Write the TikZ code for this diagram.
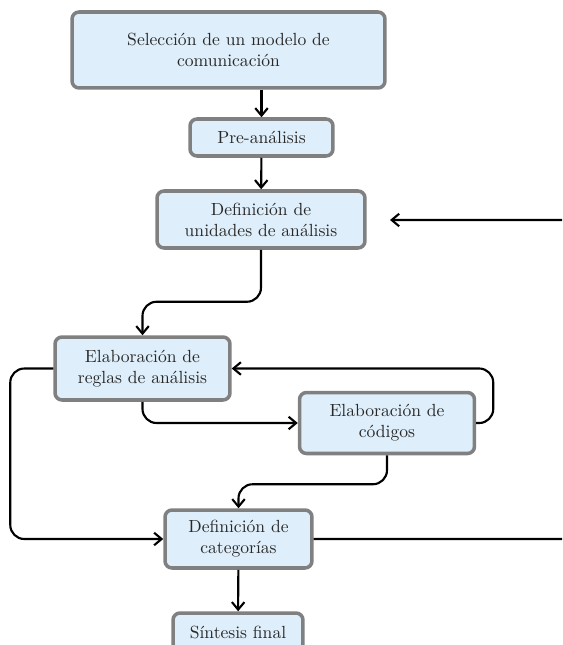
\documentclass[tikz,border=0pt]{standalone}
\usepackage{tikz}
\usepackage{xcolor}
\usetikzlibrary{calc,arrows.meta}
\definecolor{boxfill}{RGB}{222,238,250}
\definecolor{boxdraw}{RGB}{128,128,128}
\definecolor{boxtext}{RGB}{40,40,40}

\begin{document}
\begin{tikzpicture}[x=0.02cm,y=-0.02cm,
    boxnode/.style={rectangle, rounded corners=4pt, draw=boxdraw, fill=boxfill, line width=2pt, align=center, inner sep=2pt, text=boxtext},
    flow/.style={-{Straight Barb[length=1.5mm,width=2.5mm]}, line width=1.2pt, rounded corners=8pt}]
            \useasboundingbox (0,0) rectangle (562,645);
            \clip (0,0) rectangle (562,645);
            \node[boxnode, minimum width=6.26cm, minimum height=1.52cm] (A) at (228.5,50) {Selección de un modelo de\\comunicación};
            \node[boxnode, minimum width=2.86cm, minimum height=0.74cm] (B) at (261.5,137.5) {Pre-análisis};
            \node[boxnode, minimum width=4.16cm, minimum height=1.14cm] (C) at (261,219.5) {Definición de\\unidades de análisis};
            \node[boxnode, minimum width=3.5cm, minimum height=1.26cm] (D) at (142.5,368.5) {Elaboración de\\reglas de análisis};
            \node[boxnode, minimum width=3.5cm, minimum height=1.22cm] (E) at (387,423) {Elaboración de\\códigos};
            \node[boxnode, minimum width=2.94cm, minimum height=1.16cm] (F) at (238.5,539) {Definición de\\categorías};
            \node[boxnode, minimum width=2.6cm, minimum height=0.76cm] (G) at (238,632) {Síntesis final};
            \coordinate (H) at (390,220);
            \coordinate (R) at (580,220);

            \draw[flow] (B.north |- A.south) -- (B.north);
            \draw[flow] (B) -- (C);
            \draw[flow] (C.south) -- ++(0,52) -| (D.north);
            \draw[flow] (D.south) |- (E.west);
            \draw[flow] (E.east) -- ++(17,0) |- (D.east);
            \draw[flow] (E.south) -- ++(0,29) -| (F.north);
            \draw[flow] (D.west) -- ++(-43,0) |- (F.west);
            \draw[flow] (F) -- (G);
            \draw[flow] (F.east) -| (R) -- (H);

        \end{tikzpicture}
\end{document}
